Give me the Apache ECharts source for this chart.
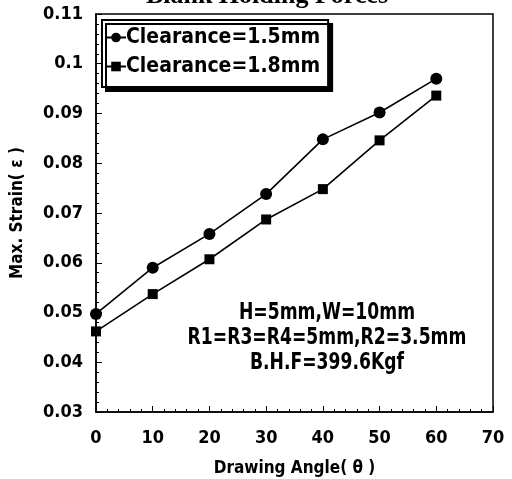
<!DOCTYPE html>
<html><head><meta charset="utf-8">
<script src="https://cdn.jsdelivr.net/npm/echarts@6/dist/echarts.min.js"></script>
<style>html,body{margin:0;padding:0;background:#fff}#c{width:512px;height:479px}</style>
</head><body><div id="c"></div>
<script>
const angles = [0, 10, 20, 30, 40, 50, 60];
const clearance15 = [0.0497, 0.0590, 0.0658, 0.0738, 0.0848, 0.0902, 0.0970];
const clearance18 = [0.0462, 0.0537, 0.0607, 0.0687, 0.0748, 0.0846, 0.0936];
const seriesNames = ['Clearance=1.5mm', 'Clearance=1.8mm'];
const yTicks = [0.03, 0.04, 0.05, 0.06, 0.07, 0.08, 0.09, 0.1, 0.11];
const noteLines = ['H=5mm,W=10mm', 'R1=R3=R4=5mm,R2=3.5mm', 'B.H.F=399.6Kgf'];

const font = '"DejaVu Sans Condensed", "Liberation Sans", Arial, sans-serif';
const chart = echarts.init(document.getElementById('c'));
const noteStyle = t => ({text: t, font: 'bold 23px ' + font, fill: '#000', align: 'center', verticalAlign: 'middle'});
chart.setOption({
  animation: false,
  grid: {left: 96, right: 19, top: 14, bottom: 67, outerBoundsMode: 'none', containLabel: false,
         show: true, borderColor: '#000', borderWidth: 1.5, backgroundColor: 'transparent'},
  legend: {
    left: 102, top: 20, orient: 'vertical', itemGap: 8, itemWidth: 20, itemHeight: 12,
    padding: [7, 8, 10, 3],
    backgroundColor: '#fff', borderColor: '#000', borderWidth: 2,
    shadowColor: '#000', shadowBlur: 0, shadowOffsetX: 4, shadowOffsetY: 4,
    textStyle: {fontFamily: font, fontWeight: 'bold', fontSize: 21, color: '#000', padding: [0,0,0,-5]},
    data: seriesNames
  },
  xAxis: {
    type: 'value', min: 0, max: 70, interval: 10,
    name: 'Drawing Angle( θ )', nameLocation: 'middle', nameGap: 48,
    nameTextStyle: {fontFamily: font, fontWeight: 'bold', fontSize: 17, color: '#000'},
    axisLine: {show: true, lineStyle: {color: '#000', width: 1.5}},
    axisTick: {show: true, inside: true, length: 6, lineStyle: {color: '#000'}},
    minorTick: {show: true, splitNumber: 5, length: 3, lineStyle: {color: '#000'}},
    splitLine: {show: false},
    axisLabel: {fontFamily: font, fontWeight: 'bold', fontSize: 18, color: '#000', margin: 17}
  },
  yAxis: {
    type: 'value', min: 0.03, max: 0.11, interval: 0.01,
    name: 'Max. Strain( ε )', nameLocation: 'middle', nameGap: 70,
    nameTextStyle: {fontFamily: font, fontWeight: 'bold', fontSize: 17, color: '#000'},
    axisLine: {show: true, lineStyle: {color: '#000', width: 1.5}},
    axisTick: {show: true, inside: true, length: 6, lineStyle: {color: '#000'}},
    minorTick: {show: true, splitNumber: 5, length: 3, lineStyle: {color: '#000'}},
    splitLine: {show: false},
    axisLabel: {fontFamily: font, fontWeight: 'bold', fontSize: 18, color: '#000', margin: 13,
      formatter: v => { const t = yTicks.find(t => Math.abs(t - v) < 1e-9); return t === undefined ? '' : String(t); }}
  },
  series: [
    {name: seriesNames[0], type: 'line', data: angles.map((a, i) => [a, clearance15[i]]),
     symbol: 'circle', symbolSize: 12, itemStyle: {color: '#000'}, lineStyle: {color: '#000', width: 1.6}},
    {name: seriesNames[1], type: 'line', data: angles.map((a, i) => [a, clearance18[i]]),
     symbol: 'rect', symbolSize: 10, itemStyle: {color: '#000'}, lineStyle: {color: '#000', width: 1.6}}
  ],
  graphic: [
    {type: 'text', x: 267, y: -17, style: {text: 'Blank Holding Forces', font: 'bold 26px "Liberation Serif", serif', fill: '#000', align: 'center'}},
    {type: 'text', x: 327, y: 313, scaleX: 0.83, style: noteStyle(noteLines[0])},
    {type: 'text', x: 327, y: 338, scaleX: 0.83, style: noteStyle(noteLines[1])},
    {type: 'text', x: 327, y: 363, scaleX: 0.83, style: noteStyle(noteLines[2])}
  ]
});
</script></body></html>
